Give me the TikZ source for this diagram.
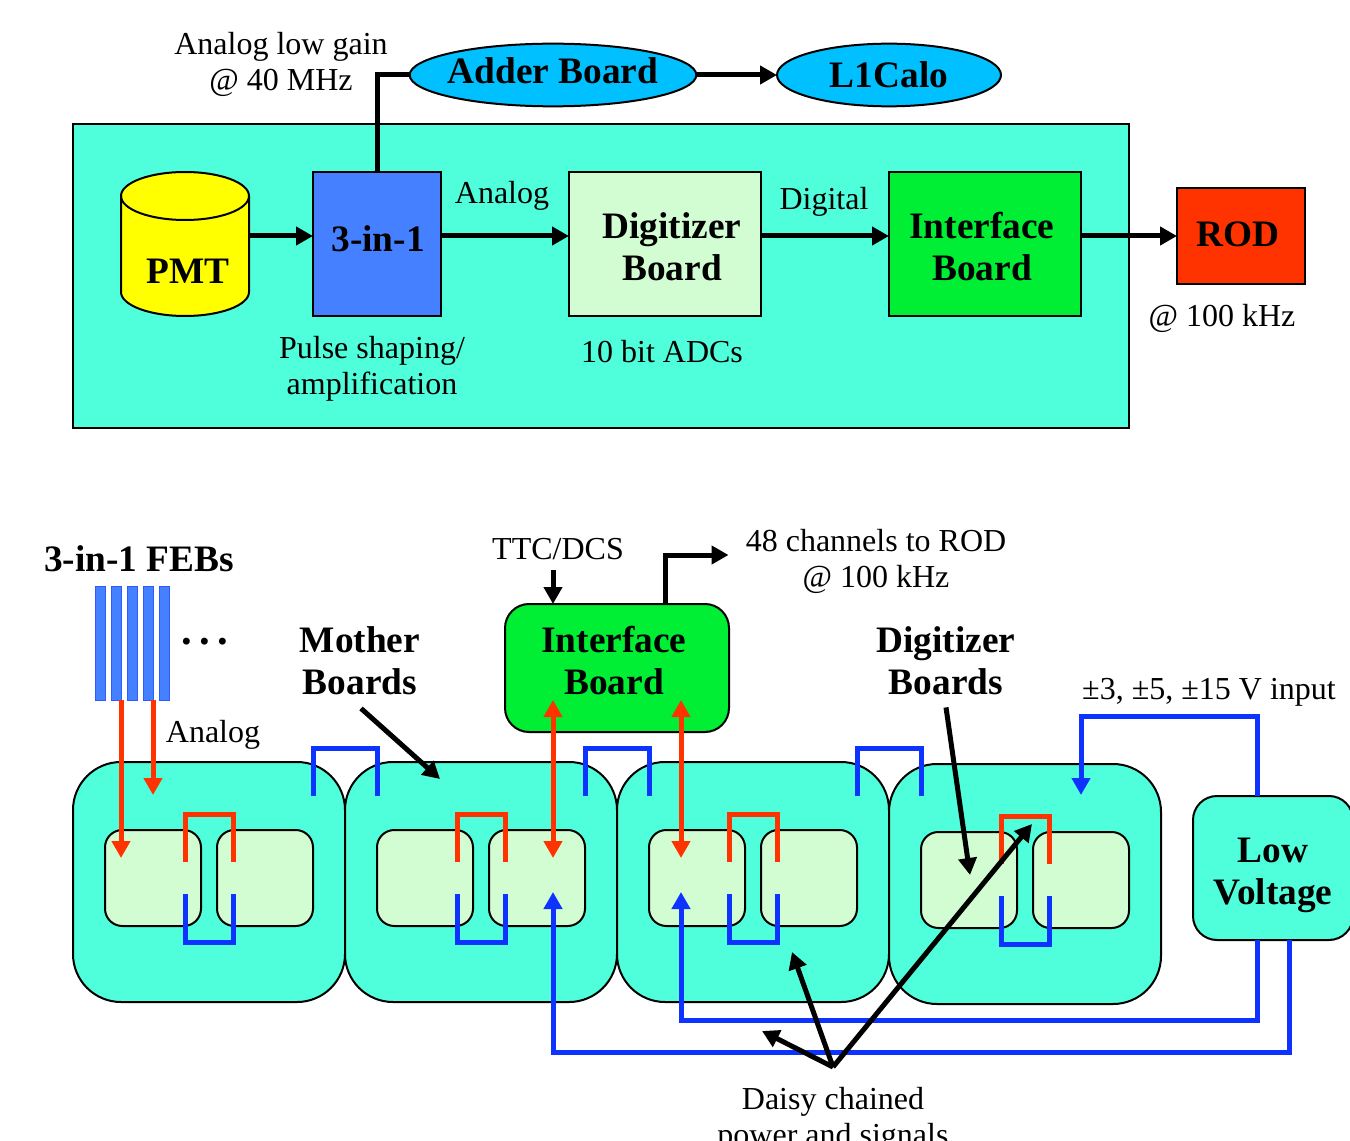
\documentclass[tikz,border=0pt]{standalone}
\usepackage{fontspec}
\usepackage{xcolor}
\setmainfont{Liberation Serif}
\usetikzlibrary{arrows.meta,shapes.geometric}
\definecolor{febaqua}{HTML}{4FFFDB}
\definecolor{febpale}{HTML}{D2FDD2}
\definecolor{febgreen}{HTML}{00EE33}
\definecolor{febblue}{HTML}{4480FF}
\definecolor{febsky}{HTML}{00C0FF}
\definecolor{febred}{HTML}{FF3300}
\definecolor{febyellow}{HTML}{FFFF00}
\definecolor{wirered}{HTML}{FF3300}
\definecolor{wireblue}{HTML}{0F33FF}
\tikzset{
  box/.style={
    draw=black,
    line width=1.5pt,
    outer sep=0pt,
    inner sep=0pt,
    align=center,
    font=\fontsize{28}{31.5}\selectfont\bfseries
  },
  blob/.style={
    box,
    shape=ellipse
  },
  board/.style={
    box,
    fill=febaqua,
    rounded corners=36pt,
    minimum width=204pt,
    minimum height=180pt
  },
  chip/.style={
    box,
    fill=febpale,
    rounded corners=13pt,
    minimum width=72pt,
    minimum height=72pt
  },
  title/.style={
    font=\fontsize{28}{31.5}\selectfont\bfseries,
    inner sep=0pt,
    align=center
  },
  note/.style={
    font=\fontsize{24}{27}\selectfont,
    inner sep=0pt,
    align=center
  },
  arrow/.style={
    ->,
    line width=3.75pt,
    draw=black
  },
  wire/.style={
    line width=3.75pt,
    draw=wireblue
  },
  hotwire/.style={
    wire,
    draw=wirered
  }
}
\begin{document}
\begin{tikzpicture}[x=0.75pt,y=-0.75pt,>={Triangle[length=12.75pt,width=13.5pt]}]
\useasboundingbox (0,0) rectangle (1350,1141);

% readout chain
\node[box, fill=febaqua, minimum width=792pt, minimum height=228pt] (panel) at (601,276) {};
\node[blob, fill=febsky, minimum width=215pt, minimum height=47pt] (adder) at (553,75) {};
\node[title] at (553,71) {Adder Board};
\node[blob, fill=febsky, minimum width=168pt, minimum height=47pt] (lcalo) at (889,75) {L1Calo};
\node[minimum width=96pt, minimum height=108pt, inner sep=0pt, outer sep=0pt] (pmt) at (185,244) {};
\draw[line width=1.5pt, fill=febyellow] (121,196) arc[start angle=180, end angle=360, x radius=64, y radius=24]
  -- (249,292) arc[start angle=0, end angle=180, x radius=64, y radius=24] -- cycle;
\draw[line width=1.5pt] (121,196) arc[start angle=180, end angle=0, x radius=64, y radius=24];
\node[title] at (188,271) {PMT};
\node[box, fill=febblue, minimum width=96pt, minimum height=108pt] (shaper) at (377,244) {};
\node[title] at (378,239) {3-in-1};
\node[box, fill=febpale, minimum width=144pt, minimum height=108pt] (digi) at (665,244) {};
\node[title] at (672,247) {Digitizer\\ Board};
\node[box, fill=febgreen, minimum width=144pt, minimum height=108pt] (iface) at (985,244) {};
\node[title] at (982,247) {Interface\\ Board};
\node[box, fill=febred, minimum width=96pt, minimum height=72pt] (rod) at (1241,236) {};
\node[title] at (1238,234) {ROD};

\node[note] at (281,64) {Analog low gain\\ @ 40 MHz};
\node[note] at (502,196) {Analog};
\node[note] at (824,202) {Digital};
\node[note] at (372,369) {Pulse shaping/\\ amplification};
\node[note] at (662,352) {10 bit ADCs};
\node[note] at (1222,318) {@ 100 kHz};

\draw[line width=3.75pt] (shaper.north) |- (adder.west);
\draw[arrow] (adder.east) -- (lcalo.west);
\draw[arrow] ([yshift=6pt]pmt.east) -- ([yshift=6pt]shaper.west);
\draw[arrow] ([yshift=6pt]shaper.east) -- ([yshift=6pt]digi.west);
\draw[arrow] ([yshift=6pt]digi.east) -- ([yshift=6pt]iface.west);
\draw[arrow] ([yshift=6pt]iface.east) -- (rod.west);

% mother boards
\foreach \i/\x/\y in {1/209/882, 2/481/882, 3/753/882, 4/1025/884} {
  \node[board] (mb\i) at (\x,\y) {};
  \node[chip] (left\i) at (\x-56,\y-4) {};
  \node[chip] (right\i) at (\x+56,\y-4) {};
}
\foreach \i in {1,...,5} {
  \node[box, line width=0.75pt, draw=febblue!70!blue, fill=febblue, minimum width=7.5pt, minimum height=85pt] (feb\i) at (84+16*\i,643.5) {};
}
\node[box, fill=febgreen, rounded corners=18pt, minimum width=168pt, minimum height=96pt] (ifb) at (617,668) {};
\node[box, fill=febaqua, rounded corners=18pt, minimum width=120pt, minimum height=108pt] (lowv) at (1273,868) {};

\node[title] at (139,559) {3-in-1 FEBs};
\node[title, font=\fontsize{32}{32}\selectfont\bfseries] (dots) at (205,642) {.\,.\,.};
\node[title] (mother) at (360,661) {Mother\\ Boards};
\node[title] at (614,661) {Interface\\ Board};
\node[title] (digib) at (946,661) {Digitizer\\ Boards};
\node[title] at (1273,875) {Low\\ Voltage};
\node[note] (ttc) at (558,549) {TTC/DCS};
\node[note] (chans) at (876,561) {48 channels to ROD\\ @ 100 kHz};
\node[note] at (213,735) {Analog};
\node[note] at (1209,692) {±3, ±5, ±15 V input};
\node[note, anchor=north] (daisy) at (833,1087) {Daisy chained\\ power and signals};

% links on each board
\foreach \i in {1,...,4} {
  \draw[hotwire] ([shift={(-16,-16)}]left\i.east) -- ++(0,-48) -| ([shift={(16,-16)}]right\i.west);
  \draw[wire] ([shift={(-16,16)}]left\i.east) -- ++(0,48) -| ([shift={(16,16)}]right\i.west);
}
\foreach \i in {1,2,3} {
  \draw[wire] ([shift={(-32,34)}]mb\i.north east) -- ++(0,-48) -| ([shift={(32,34)}]mb\i.north east);
}

% signals
\draw[hotwire, ->] ([xshift=3.75pt]feb2.south) -- ([shift={(-32,-20)}]left1.center);
\draw[hotwire, ->] ([xshift=3.75pt]feb4.south) -- ([yshift=26.25pt]left1.north);
\draw[hotwire, <->] ([shift={(-64,-32)}]ifb.south) -- ([shift={(16,-20)}]right2.center);
\draw[hotwire, <->] ([shift={(64,-32)}]ifb.south) -- ([shift={(-16,-20)}]left3.center);

% power
\draw[wire, ->] ([xshift=-12pt]lowv.north) -- ++(0,-80) -| ([shift={(56,31)}]mb4.north);
\draw[wire, ->] ([xshift=-12pt]lowv.south) -- ++(0,80) -| ([shift={(-16,14)}]left3.center);
\draw[wire, ->] ([xshift=12pt]lowv.south) -- ++(0,112) -| ([shift={(16,14)}]right2.center);

% interface board links
\draw[arrow] ([shift={(-5,10)}]ttc.south) -- ([xshift=-48pt]ifb.north);
\draw[arrow] ([xshift=36pt]ifb.north) |- ([shift={(-17,-6)}]chans.west);

% pointers
\coordinate (dz) at ([yshift=15pt]daisy.north);
\draw[arrow] ([shift={(1,13)}]mother.south) -- ([shift={(-41,17)}]mb2.north);
\draw[arrow] ([yshift=-9pt]digib.south) -- ([shift={(1,-5)}]left4.center);
\draw[arrow] (dz) -- ([shift={(9,29)}]mb3.south);
\draw[arrow] (dz) -- ([shift={(39,-50)}]mb3.south);
\draw[arrow] (dz) -- ([shift={(-1,-8)}]right4.north west);
\end{tikzpicture}
\end{document}
